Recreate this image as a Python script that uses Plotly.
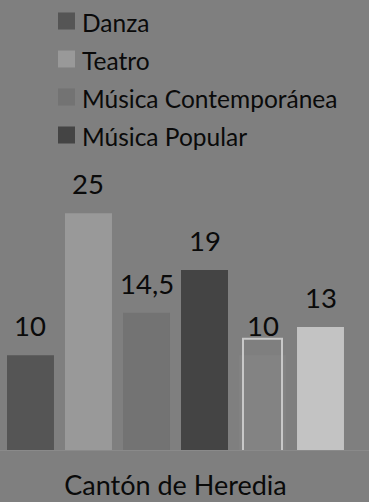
import plotly.graph_objects as go

# Data
category = "Cantón de Heredia"
series_names = ["Danza", "Teatro", "Música Contemporánea", "Música Popular", "", ""]
values = [10, 25, 14.5, 19, 10, 13]
colors = ["#555555", "#999999", "#737373", "#444444", "#838383", "#c3c3c3"]
legend_count = 4

W, H = 369, 502
M_T, M_B = 198, 52
PLOT_H = H - M_T - M_B
PX_PER_UNIT = 9.47
X_RANGE = [-0.5, 0.5513]
BARGAP = 0.0085
GROUPGAP = 0.19
FONT = "Lato"
TEXT_COLOR = "#0a0a0a"

fig = go.Figure()
for name, v, c in zip(series_names, values, colors):
    fig.add_trace(go.Bar(
        x=[category], y=[v], name=name, marker=dict(color=c, line=dict(width=0)),
        showlegend=False, hoverinfo="skip",
    ))

# bar centres inside the single category group
n = len(values)
slot = (1 - BARGAP) / n
centres = [(i - (n - 1) / 2) * slot for i in range(n)]

annotations = []
for xc, v in zip(centres, values):
    label = f"{v:g}".replace(".", ",")
    annotations.append(dict(
        x=xc, y=v, xref="x", yref="y", text=label, showarrow=False,
        yanchor="bottom", yshift=11, font=dict(family=FONT, size=27.5, color=TEXT_COLOR),
    ))

# highlight frame around the fifth bar
frame_half = 19.5 / (W / (X_RANGE[1] - X_RANGE[0]))
shapes = [dict(
    type="rect", xref="x", yref="y",
    x0=centres[4] - frame_half, x1=centres[4] + frame_half,
    y0=-0.25, y1=11.75,
    line=dict(color="#c8c8c8", width=2), fillcolor="rgba(0,0,0,0)",
)]


def py(p):
    return (H - M_B - p) / PLOT_H


# legend entries
for i in range(legend_count):
    yc = 21 + 38 * i
    shapes.append(dict(
        type="rect", xref="paper", yref="paper",
        x0=58 / W, x1=75 / W, y0=py(yc + 8.5), y1=py(yc - 8.5),
        fillcolor=colors[i], line=dict(width=0),
    ))
    annotations.append(dict(
        x=80 / W, y=py(yc + 1), xref="paper", yref="paper", text=series_names[i],
        showarrow=False, xanchor="left", yanchor="middle",
        font=dict(family=FONT, size=24.5, color=TEXT_COLOR),
    ))

fig.update_layout(
    width=W, height=H,
    margin=dict(l=0, r=0, t=M_T, b=M_B, pad=0),
    paper_bgcolor="#7f7f7f", plot_bgcolor="#7f7f7f",
    barmode="group", bargap=BARGAP, bargroupgap=GROUPGAP,
    separators=",.",
    showlegend=False,
    xaxis=dict(
        type="category", range=X_RANGE, showgrid=False, zeroline=False,
        showline=True, linecolor="#8a8a8a", linewidth=1,
        ticks="", ticklabelstandoff=12,
        tickfont=dict(family=FONT, size=27, color=TEXT_COLOR),
    ),
    yaxis=dict(
        range=[0, PLOT_H / PX_PER_UNIT], visible=False, showgrid=False, zeroline=False,
    ),
    annotations=annotations,
    shapes=shapes,
)

fig.write_html("out.html")
